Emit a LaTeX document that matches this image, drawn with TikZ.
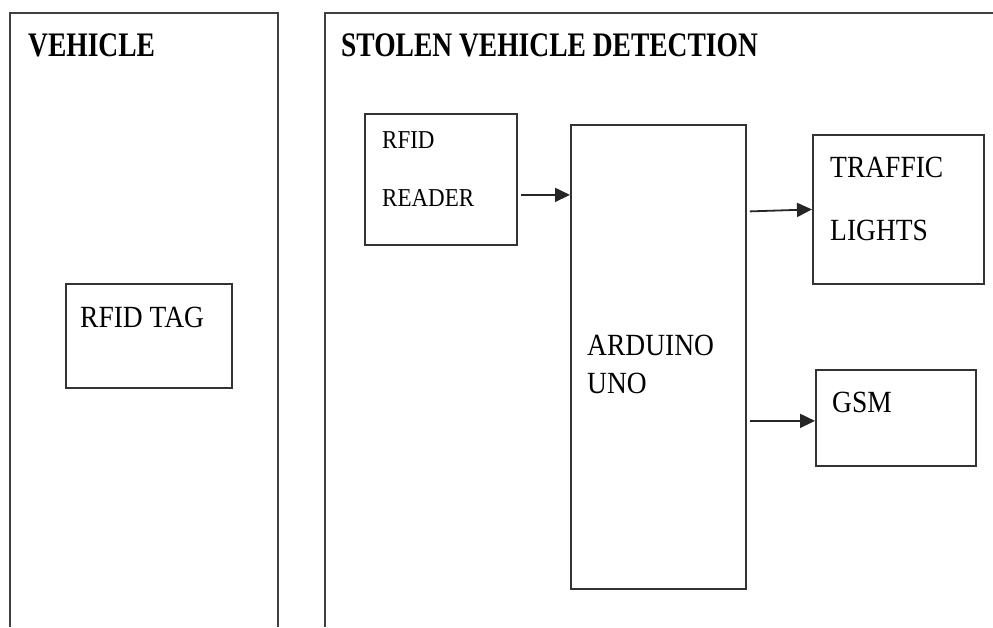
\documentclass[tikz,border=0pt]{standalone}
\usepackage{fontspec}
\usepackage{graphicx}
\setmainfont{Liberation Serif}
\usetikzlibrary{arrows.meta}

\newcommand{\tall}[2]{\scalebox{1}[#1]{#2}}

\tikzset{
  panel/.style={draw=black!75, line width=2pt},
  blk/.style={draw=black!80, line width=1.8pt, inner sep=0pt, anchor=north west},
  lbl/.style={anchor=west, inner sep=0pt, font=\fontsize{27.5}{30}\selectfont},
  smlbl/.style={lbl, font=\fontsize{23}{26}\selectfont},
  ttl/.style={lbl, font=\fontsize{27.5}{30}\selectfont\bfseries},
  arr/.style={-{Triangle[length=15pt,width=14pt]}, line width=1.8pt, black!85}
}

\begin{document}
\begin{tikzpicture}[x=1pt,y=-1pt]
  \useasboundingbox (0,0) rectangle (993,627);

  % Vehicle panel
  \draw[panel] (10,627) -- (10,13) -- (278,13) -- (278,627);
  \node[ttl] (vehttl) at (28,45) {\tall{1.25}{VEHICLE}};

  \node[blk, minimum width=166pt, minimum height=104pt] (tag) at (65,283) {};
  \node[lbl] (tagtxt) at (80,317) {\tall{1.12}{RFID TAG}};

  % Detection panel
  \draw[panel] (325,627) -- (325,13) -- (993,13);
  \node[ttl] (detttl) at (341,45) {\tall{1.25}{STOLEN VEHICLE DETECTION}};

  % Reader
  \node[blk, minimum width=152pt, minimum height=131pt] (reader) at (364,113) {};
  \node[smlbl] (rdtxt1) at (382,140) {\tall{1.12}{RFID}};
  \node[smlbl] (rdtxt2) at (382,198) {\tall{1.12}{READER}};

  % Arduino
  \node[blk, minimum width=175pt, minimum height=464pt] (arduino) at (570,124) {};
  \node[lbl] (ardtxt1) at (587,345) {\tall{1.12}{ARDUINO}};
  \node[lbl] (ardtxt2) at (587,383) {\tall{1.12}{UNO}};

  % Traffic lights
  \node[blk, minimum width=171pt, minimum height=149pt] (traffic) at (812,134) {};
  \node[lbl] (trtxt1) at (830,167) {\tall{1.12}{TRAFFIC}};
  \node[lbl] (trtxt2) at (830,230) {\tall{1.12}{LIGHTS}};

  % GSM
  \node[blk, minimum width=160pt, minimum height=96pt] (gsm) at (815,369) {};
  \node[lbl] (gsmtxt) at (832,402) {\tall{1.12}{GSM}};

  % Connections
  \draw[arr] ([xshift=3pt,yshift=-15.5pt]reader.east) -- ([yshift=-15.5pt]reader.east -| arduino.west);
  \draw[arr] ([xshift=3pt,yshift=-2pt]arduino.east |- traffic.west) -- (traffic.west);
  \draw[arr] ([xshift=3pt,yshift=-3pt]arduino.east |- gsm.west) -- ([yshift=-3pt]gsm.west);
\end{tikzpicture}
\end{document}
